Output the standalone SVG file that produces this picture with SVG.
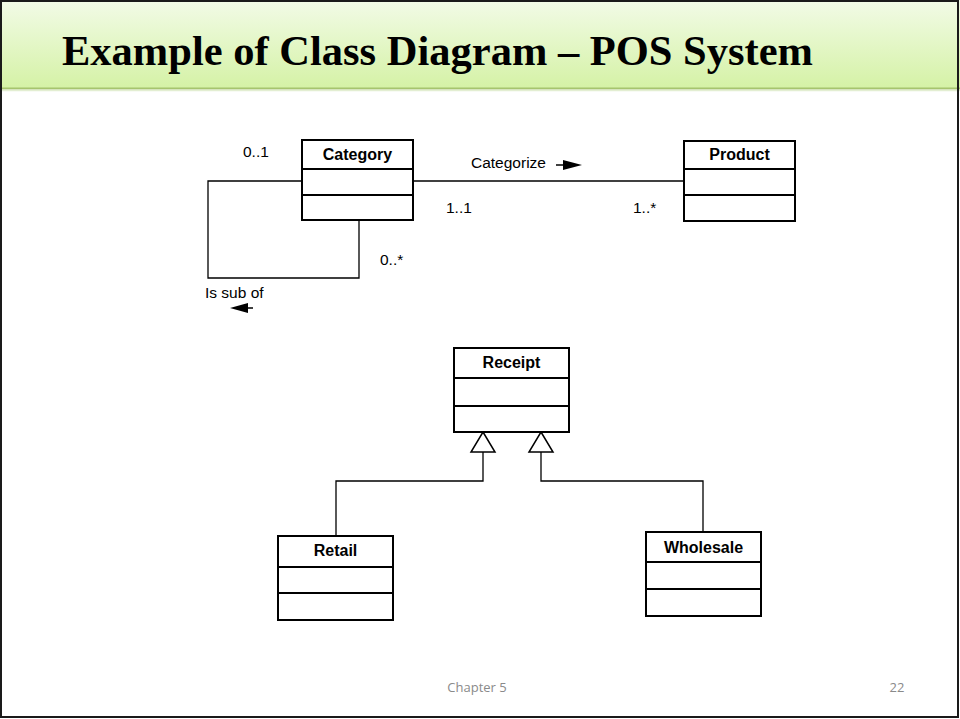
<svg xmlns="http://www.w3.org/2000/svg" width="960" height="719" viewBox="0 0 960 719">
<defs>
<linearGradient id="band" x1="0" y1="0" x2="0" y2="1">
<stop offset="0" stop-color="#f2fbe7"/>
<stop offset="1" stop-color="#d5f2a6"/>
</linearGradient>
<style>
.box{fill:#fff;stroke:#000;stroke-width:2}
.sep{stroke:#000;stroke-width:2}
.name{font-family:"Liberation Sans",Arial,sans-serif;font-weight:bold;font-size:16px;fill:#000;text-anchor:middle}
.lbl{font-family:"Liberation Sans",Arial,sans-serif;font-size:15.5px;fill:#000}
.con{fill:none;stroke:#000;stroke-width:1.3}
.gen{fill:#fff;stroke:#000;stroke-width:1.5}
.foot{font-family:"Open Sans","Liberation Sans",sans-serif;font-size:13px;fill:#8a8a8a}
</style>
</defs>
<rect x="0" y="0" width="960" height="719" fill="#fff"/>
<rect x="0" y="0" width="960" height="88" fill="url(#band)"/>
<line x1="0" y1="88.5" x2="960" y2="88.5" stroke="#a6c46e" stroke-width="2"/>
<line x1="0" y1="90.5" x2="960" y2="90.5" stroke="#e3eed2" stroke-width="1.5"/>
<text x="62" y="65" font-family="'Liberation Serif','Times New Roman',serif" font-weight="bold" font-size="42" textLength="751" lengthAdjust="spacingAndGlyphs" fill="#000">Example of Class Diagram – POS System</text>

<g id="connectors">
<line class="con" x1="413" y1="181" x2="684" y2="181"/>
<polyline class="con" points="302,181 208,181 208,278 359,278 359,220"/>
<polyline class="con" points="483,452 483,481 336,481 336,536"/>
<polyline class="con" points="541,452 541,481 703,481 703,532"/>
<polygon class="gen" points="483,432 495,452 471,452"/>
<polygon class="gen" points="541,432 553,452 529,452"/>
</g>

<g id="labels">
<text class="lbl" x="243" y="157">0..1</text>
<text class="lbl" x="471" y="168">Categorize</text>
<line x1="556" y1="165" x2="565" y2="165" stroke="#000" stroke-width="1.5"/>
<polygon points="563,160 582,165 563,170" fill="#000"/>
<text class="lbl" x="446" y="213">1..1</text>
<text class="lbl" x="633" y="213">1..*</text>
<text class="lbl" x="380" y="265">0..*</text>
<text class="lbl" x="205" y="298">Is sub of</text>
<line x1="244" y1="308" x2="253" y2="308" stroke="#000" stroke-width="1.5"/>
<polygon points="230,308 248,303 248,313" fill="#000"/>
</g>

<g id="Category">
<rect class="box" x="302" y="140" width="111" height="80"/>
<line class="sep" x1="302" y1="169" x2="413" y2="169"/>
<line class="sep" x1="302" y1="195" x2="413" y2="195"/>
<text class="name" x="357.5" y="160">Category</text>
</g>
<g id="Product">
<rect class="box" x="684" y="141" width="111" height="80"/>
<line class="sep" x1="684" y1="169" x2="795" y2="169"/>
<line class="sep" x1="684" y1="195" x2="795" y2="195"/>
<text class="name" x="739.5" y="160">Product</text>
</g>
<g id="Receipt">
<rect class="box" x="454" y="348" width="115" height="84"/>
<line class="sep" x1="454" y1="378" x2="569" y2="378"/>
<line class="sep" x1="454" y1="406" x2="569" y2="406"/>
<text class="name" x="511.5" y="368">Receipt</text>
</g>
<g id="Retail">
<rect class="box" x="278" y="536" width="115" height="84"/>
<line class="sep" x1="278" y1="567" x2="393" y2="567"/>
<line class="sep" x1="278" y1="593" x2="393" y2="593"/>
<text class="name" x="335.5" y="556">Retail</text>
</g>
<g id="Wholesale">
<rect class="box" x="646" y="532" width="115" height="84"/>
<line class="sep" x1="646" y1="562" x2="761" y2="562"/>
<line class="sep" x1="646" y1="589" x2="761" y2="589"/>
<text class="name" x="703.5" y="553">Wholesale</text>
</g>

<text class="foot" x="477" y="692" text-anchor="middle">Chapter 5</text>
<text class="foot" x="897" y="692" text-anchor="middle">22</text>
<rect x="1" y="1" width="957" height="716" fill="none" stroke="#1a1a1a" stroke-width="2"/>
</svg>
